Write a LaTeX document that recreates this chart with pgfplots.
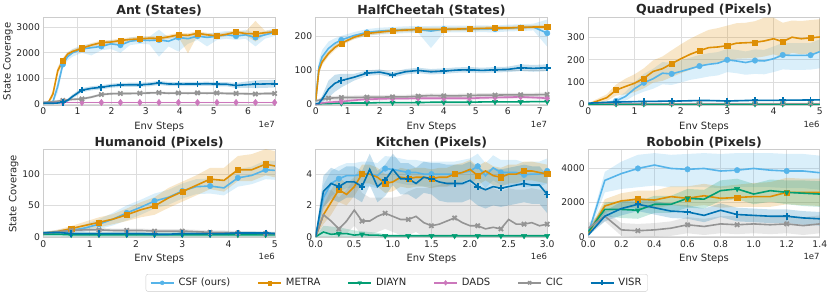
\documentclass[border=0pt]{standalone}
\usepackage{pgfplots}
\pgfplotsset{compat=1.18}
\usepackage{pgfplotstable}
\usepgfplotslibrary{fillbetween}
\usepackage{fontspec}
\setmainfont{DejaVu Sans}

\definecolor{cCSF}{HTML}{56B4E9}
\definecolor{cMETRA}{HTML}{DE8F05}
\definecolor{cDIAYN}{HTML}{029E73}
\definecolor{cDADS}{HTML}{CC78BC}
\definecolor{cCIC}{HTML}{949494}
\definecolor{cVISR}{HTML}{0173B2}
\definecolor{cGrid}{HTML}{DDDDDD}
\definecolor{cFrame}{HTML}{CCCCCC}
\definecolor{cText}{HTML}{262626}

% ---------------- data (x in units of the axis' 1eN) ----------------
\pgfplotstableread{
x am al ah bm bl bh dm dl dh em el eh fm fl fh
0 40 30 30 40 30 30 70 20 20 80 50 50 40 30 30
0.14 50 30 30 60 30 30 70 20 20 90 50 50 40 30 30
0.28 100 60 60 400 150 150 70 20 20 100 50 50 40 30 30
0.42 700 250 250 1300 150 150 70 20 20 120 50 50 50 30 30
0.57 1550 150 150 1700 100 100 70 20 20 150 50 50 80 40 40
0.71 1850 150 150 1950 80 80 70 20 20 170 50 50 150 60 60
0.85 2000 150 150 2050 80 80 70 20 20 190 50 50 300 80 80
1.13 2150 150 150 2180 80 80 70 20 20 210 50 50 550 80 80
1.41 2200 300 150 2300 80 80 70 20 20 280 50 50 620 80 80
1.70 2250 150 150 2400 80 80 70 20 20 380 50 50 660 80 80
1.98 2350 200 150 2420 80 80 70 20 20 410 50 50 720 80 80
2.26 2300 300 150 2480 80 80 70 20 20 420 50 50 750 80 80
2.54 2450 150 150 2520 80 80 70 20 20 420 50 50 760 80 80
2.83 2500 150 150 2540 80 80 70 20 20 430 50 50 760 80 80
3.11 2480 150 150 2570 80 80 70 20 20 440 50 50 780 80 80
3.39 2500 650 400 2560 80 80 70 20 20 450 50 50 830 80 80
3.67 2450 200 150 2620 80 80 70 20 20 430 50 50 790 80 80
3.96 2600 550 150 2700 80 80 70 20 20 440 50 50 780 80 80
4.24 2550 200 150 2680 700 80 70 20 20 430 50 50 790 80 80
4.52 2650 150 150 2760 80 80 70 20 20 440 50 50 790 80 80
4.80 2600 350 150 2700 80 80 70 20 20 430 50 50 800 80 80
5.09 2650 150 150 2660 80 80 70 20 20 440 50 50 780 80 80
5.37 2700 150 150 2720 80 80 70 20 20 420 50 50 780 80 80
5.65 2650 150 150 2810 80 80 70 20 20 420 50 50 730 100 100
5.93 2700 150 200 2750 80 80 70 20 20 410 50 50 760 120 120
6.22 2600 350 150 2740 300 500 70 20 20 400 50 50 780 150 150
6.50 2700 150 150 2780 80 80 70 20 20 420 50 50 790 150 150
6.78 2800 150 150 2820 80 80 70 20 20 420 50 50 800 150 150
}\antTab

\pgfplotstableread{
x am al ah bm bl bh cm cl ch dm dl dh em el eh fm fl fh
0 10 5 5 10 5 5 0 1 1 0 1 1 10 4 4 2 1 1
0.1 110 20 20 100 10 10 1 1 1 2 2 2 12 5 5 3 2 2
0.2 140 20 20 125 10 10 2 2 2 4 3 3 15 6 6 15 10 10
0.4 165 20 20 150 8 8 2 2 2 6 4 4 18 6 6 45 25 25
0.6 180 15 15 168 8 8 3 2 2 7 5 5 19 6 6 62 25 25
0.8 190 12 12 180 6 6 3 2 2 8 5 5 20 6 6 70 20 20
1.2 203 10 10 198 6 6 4 2 2 12 5 5 20 6 6 80 10 10
1.6 212 10 10 209 6 6 4 2 2 15 5 5 21 6 6 92 8 8
2.0 216 10 10 213 6 6 5 2 2 16 5 5 21 6 6 95 8 8
2.4 218 10 10 217 6 6 5 2 2 17 5 5 22 6 6 87 8 8
2.8 220 10 10 219 6 6 5 2 2 17 5 5 22 6 6 96 8 8
3.2 221 10 10 221 6 6 5 2 2 18 5 5 24 6 6 100 8 8
3.6 216 50 15 221 6 6 6 2 2 18 5 5 26 6 6 96 8 8
4.0 222 10 10 221 6 6 6 2 2 18 5 5 25 6 6 98 8 8
4.4 222 10 10 222 6 6 6 2 2 18 5 5 25 6 6 101 8 8
4.8 222 10 10 223 6 6 6 2 2 18 5 5 26 6 6 102 8 8
5.2 223 10 10 224 6 6 7 2 2 19 5 5 27 6 6 100 8 8
5.6 222 10 10 225 6 6 7 2 2 20 5 5 27 6 6 102 8 8
6.0 225 10 10 225 6 6 7 2 2 21 5 5 28 6 6 103 8 8
6.4 226 10 10 227 6 6 7 2 2 22 5 5 28 6 6 108 10 10
6.8 228 10 10 228 6 6 8 2 2 20 5 5 28 6 6 106 10 10
7.23 210 40 40 228 6 6 8 2 2 18 5 5 29 6 6 108 10 10
}\hcTab

\pgfplotstableread{
x am al ah bm bl bh cm cl ch em el eh fm fl fh
0 0 2 2 0 5 5 1 1 1 4 3 3 5 3 3
0.2 2 3 3 15 10 10 1 1 1 4 3 3 7 3 3
0.4 5 5 5 30 15 15 1 1 1 4 3 3 9 3 3
0.6 15 10 10 64 25 25 1 1 1 4 3 3 10 3 3
0.8 35 20 20 80 35 35 1 1 1 4 3 3 11 3 3
1.0 70 30 30 95 40 40 1 1 1 4 3 3 12 3 3
1.2 97 40 40 117 45 45 1 1 1 4 3 3 13 3 3
1.4 115 45 45 148 50 50 1 1 1 4 3 3 13 3 3
1.6 140 50 50 160 55 55 1 1 1 4 3 3 14 3 3
1.8 137 50 50 183 60 60 1 1 1 4 3 3 14 3 3
2.0 148 50 50 205 65 65 1 1 1 4 3 3 15 3 3
2.2 160 50 50 225 70 70 1 1 1 4 3 3 16 3 3
2.4 172 55 50 241 70 75 1 1 1 4 3 3 17 3 3
2.6 180 55 50 255 70 80 1 1 1 4 3 3 17 3 3
2.8 185 55 50 258 70 85 1 1 1 4 3 3 16 3 3
3.0 200 55 50 264 70 90 1 1 1 4 3 3 15 3 3
3.2 195 55 50 275 70 90 1 1 1 4 3 3 16 3 3
3.4 188 55 50 277 70 90 1 1 1 4 3 3 17 3 3
3.6 197 60 50 279 70 95 1 1 1 4 3 3 18 3 3
3.8 195 60 50 285 70 105 1 1 1 4 3 3 18 3 3
4.0 205 60 55 295 70 95 1 1 1 4 3 3 18 3 3
4.2 222 65 55 282 70 85 1 1 1 4 3 3 18 3 3
4.4 220 65 55 302 70 75 1 1 1 4 3 3 19 3 3
4.6 220 65 55 295 70 80 1 1 1 4 3 3 19 3 3
4.8 221 65 55 299 70 80 1 1 1 4 3 3 20 3 3
5.0 237 75 55 303 70 80 1 1 1 4 3 3 20 3 3
}\quadTab

\pgfplotstableread{
x am al ah bm bl bh cm cl ch em el eh fm fl fh
0 5 2 2 5 2 2 4 3 5 5 3 3 6 2 2
0.3 7 3 3 8 3 3 4 3 5 8 3 3 7 2 2
0.6 10 4 4 13 4 4 3 3 4 10 3 3 5 2 2
0.9 14 6 6 18 6 6 3 3 4 11 3 3 5 2 2
1.2 20 8 8 23 8 8 3 3 4 11 3 3 5 2 2
1.5 28 10 10 28 8 8 3 3 4 10 3 3 5 2 2
1.8 38 12 12 35 10 10 3 3 4 10 3 3 5 2 2
2.1 47 12 12 43 12 12 3 3 4 10 3 3 5 2 2
2.4 57 12 12 49 14 14 3 3 4 9 3 3 4 2 2
2.7 63 12 12 62 16 16 3 3 4 9 3 3 4 2 2
3.0 73 12 12 72 16 16 3 3 4 9 3 3 5 2 2
3.3 80 12 12 82 16 16 3 3 4 8 3 3 5 2 2
3.6 81 12 12 92 16 18 3 3 4 7 3 3 5 2 2
3.9 78 12 12 90 18 20 3 3 4 7 3 3 5 2 2
4.2 94 14 14 107 18 22 3 3 4 6 3 3 6 2 2
4.5 98 14 14 107 18 25 3 3 4 6 3 3 6 2 2
4.8 107 15 15 116 18 24 3 3 4 5 3 3 6 2 2
5.0 106 15 15 113 18 24 3 3 4 5 3 3 5 2 2
}\humTab

\pgfplotstableread{
x am al ah bm bl bh cm cl ch em el eh fm fl fh
0.0 0 0 0 0 0 0 0 0 0 0 0 0 0 0 0
0.1 2.5 0.8 0.8 1.4 0.6 0.6 0.3 0.3 0.4 1.4 1.0 1.5 2.9 1.0 1.0
0.2 3.4 0.8 0.8 2.2 0.8 0.8 0.15 0.15 0.5 1.0 0.8 2.0 3.4 1.0 1.0
0.3 3.7 0.8 0.8 3.0 0.8 0.8 0.2 0.2 0.4 0.5 0.5 2.0 3.2 1.0 1.0
0.4 3.9 0.8 0.8 2.7 0.7 0.7 0.2 0.2 0.3 1.0 0.8 2.0 3.5 1.0 1.0
0.5 3.9 0.8 0.8 3.2 0.6 0.6 0.1 0.1 0.3 1.7 1.0 2.0 3.5 1.0 1.0
0.6 4.0 0.8 0.8 4.0 0.6 0.6 0.15 0.15 0.2 1.0 0.9 1.8 3.2 1.0 1.0
0.7 4.0 0.8 0.8 4.0 0.6 0.6 0.1 0.1 0.2 1.0 0.9 1.5 4.3 1.0 1.0
0.8 3.9 0.8 0.8 3.8 0.6 0.6 0.1 0.1 0.15 1.3 1.0 1.2 3.2 1.0 1.0
0.9 4.35 0.8 0.8 3.4 0.6 0.6 0.05 0.05 0.1 1.5 1.0 1.0 3.6 1.0 1.0
1.0 4.3 0.8 0.8 3.5 0.6 0.6 0.05 0.05 0.1 1.3 1.0 1.2 4.3 1.0 1.0
1.1 4.2 0.8 0.8 3.8 0.6 0.6 0.05 0.05 0.1 1.1 1.0 1.5 3.7 1.0 1.0
1.2 4.1 0.8 0.8 3.7 0.6 0.6 0.05 0.05 0.1 1.1 1.0 1.8 3.7 1.0 1.0
1.3 4.1 0.8 0.8 3.8 0.6 0.6 0.05 0.05 0.1 1.3 1.0 1.8 3.4 1.0 1.0
1.4 4.0 0.8 0.8 3.8 0.6 0.6 0.05 0.05 0.1 0.9 0.9 2.2 3.8 1.0 1.0
1.5 4.0 0.8 0.8 3.7 0.6 0.6 0.05 0.05 0.1 0.7 0.7 2.5 3.7 1.0 1.0
1.6 4.0 0.8 0.8 3.8 0.6 0.6 0.05 0.05 0.1 0.8 0.8 2.5 3.5 1.2 1.2
1.7 4.0 0.8 0.8 3.8 0.6 0.6 0.05 0.05 0.1 1.0 1.0 2.5 3.4 1.2 1.2
1.8 4.0 0.8 0.8 4.0 0.6 0.6 0.05 0.05 0.1 1.2 1.0 2.3 3.4 1.2 1.2
1.9 4.1 0.8 0.8 4.1 0.6 0.6 0.05 0.05 0.1 0.9 0.9 2.5 3.4 1.2 1.2
2.0 4.2 0.8 0.8 4.3 0.6 0.6 0.05 0.05 0.1 0.7 0.7 2.7 3.6 1.2 1.2
2.1 4.5 0.8 0.8 3.9 0.6 0.6 0.05 0.05 0.1 0.7 0.7 2.5 3.2 1.2 1.2
2.2 3.9 0.8 0.8 4.2 0.6 0.6 0.05 0.05 0.1 0.5 0.5 2.6 3.0 1.2 1.2
2.3 4.4 0.8 0.8 3.9 0.6 0.6 0.05 0.05 0.1 0.6 0.6 2.5 3.2 1.2 1.2
2.4 4.1 0.8 0.8 3.8 0.6 0.6 0.05 0.05 0.1 0.5 0.5 2.4 3.1 1.2 1.2
2.5 4.1 0.8 0.8 4.0 0.6 0.6 0.05 0.05 0.1 1.1 1.0 2.0 3.2 1.2 1.2
2.6 4.1 0.8 0.8 4.0 0.6 0.6 0.05 0.05 0.1 0.8 0.8 2.2 3.3 1.2 1.2
2.7 3.95 0.8 0.8 4.2 0.6 0.6 0.05 0.05 0.1 0.8 0.8 2.2 3.4 1.2 1.2
2.8 4.0 0.8 0.8 4.2 0.6 0.6 0.05 0.05 0.1 0.9 0.9 2.2 3.3 1.2 1.2
2.9 4.0 0.8 0.8 4.1 0.6 0.6 0.05 0.05 0.1 0.7 0.7 2.3 3.3 1.2 1.2
3.0 4.2 0.8 0.8 4.0 0.6 0.6 0.05 0.05 0.1 0.8 0.8 2.2 2.7 1.2 1.2
}\kitTab

\pgfplotstableread{
x am al ah bm bl bh cm cl ch em el eh fm fl fh
0.0 200 100 100 200 100 100 300 100 100 500 300 300 100 50 50
0.1 3300 700 500 1800 400 400 1600 400 400 1200 300 300 1200 300 300
0.2 3700 900 700 2100 450 450 1600 500 500 400 350 400 1650 400 400
0.3 4000 1100 800 2200 500 500 1550 500 500 350 350 400 1900 400 400
0.4 4200 1200 700 2150 500 550 1900 500 500 400 400 400 1700 400 400
0.5 4000 1100 800 2350 500 600 1900 500 500 500 450 400 1500 400 400
0.6 3950 1050 900 2250 500 700 2250 550 550 700 500 450 1450 400 400
0.7 4000 1100 900 2400 550 700 2200 550 550 600 500 450 1250 400 400
0.8 3850 1000 1000 2250 550 700 2700 600 600 750 550 450 1550 400 400
0.9 3900 1000 1000 2300 550 750 2800 600 600 700 550 500 1300 400 400
1.0 4000 1100 900 2350 600 800 2500 600 600 750 550 500 1250 400 400
1.1 3900 1000 1000 2350 600 850 2700 650 650 700 550 500 1200 400 400
1.2 3850 1000 1000 2600 700 850 2600 700 700 750 550 500 1200 400 400
1.3 3850 1000 1000 2600 750 800 2550 750 750 650 550 500 1100 400 400
1.4 3750 1000 1000 2600 800 800 2500 750 750 750 550 500 1050 400 400
}\robTab

% ---------------- styles ----------------
\pgfplotsset{
  csf/.style={cCSF, line width=1.6pt, mark=*, mark size=2.8pt, mark options={solid, fill=cCSF, line width=0.4pt}},
  metra/.style={cMETRA, line width=1.6pt, mark=square*, mark size=2.6pt, mark options={solid, fill=cMETRA, line width=0.4pt}},
  diayn/.style={cDIAYN, line width=1.6pt, mark=triangle*, mark size=3pt, mark options={solid, fill=cDIAYN, rotate=180, line width=0.4pt}},
  dads/.style={cDADS, line width=1.6pt, mark=diamond*, mark size=3.2pt, mark options={solid, fill=cDADS, line width=0.4pt}},
  cic/.style={cCIC, line width=1.6pt, mark=x, mark size=3pt, mark options={solid, line width=1.8pt}},
  visr/.style={cVISR, line width=1.6pt, mark=+, mark size=3.3pt, mark options={solid, line width=1.8pt}},
  panel/.style={
    scale only axis, width=231.5pt, height=88.3pt, anchor=south west,
    axis line style={draw=cFrame, line width=0.8pt},
    xmajorgrids, ymajorgrids, major grid style={draw=cGrid, line width=0.8pt},
    major tick length=0pt,
    tick label style={font=\fontsize{9.2}{10}\selectfont, text=cText},
    xticklabel style={yshift=1pt},
    /pgf/number format/assume math mode=true,
    /pgf/number format/1000 sep={},
    label style={font=\fontsize{10}{12}\selectfont, text=cText},
    xlabel style={yshift=0pt},
    ylabel shift=-3pt,
    title style={font=\fontsize{12.5}{14}\selectfont\bfseries, text=cText, yshift=-8.5pt},
    xlabel={Env Steps},
    legend image code/.code={\draw[mark repeat=2,mark phase=2] plot coordinates {(0pt,0pt) (11.5pt,0pt) (23pt,0pt)};},
  },
}
\tikzset{expo/.style={anchor=east, font=\fontsize{8.5}{10}\selectfont, text=cText, inner sep=0pt}}

% band: #1 table, #2 column prefix, #3 colour
\newcommand{\band}[3]{%
  \addplot[draw=none, forget plot, name path=#2U] table[x=x, y expr=\thisrow{#2m}+\thisrow{#2h}]{#1};
  \addplot[draw=none, forget plot, name path=#2L] table[x=x, y expr=\thisrow{#2m}-\thisrow{#2l}]{#1};
  \addplot[fill=#3, fill opacity=0.22, draw=none, forget plot] fill between[of=#2U and #2L];
}
% mean line: #1 table, #2 prefix, #3 style, #4 marked indices
\newcommand{\mean}[4]{%
  \addplot[#3, mark indices={#4}, forget plot] table[x=x, y=#2m]{#1};
}

\begin{document}
\begin{tikzpicture}

% ---------- Ant ----------
\begin{axis}[panel, name=ant, at={(43.4pt,192.5pt)}, title={Ant (States)},
  xmin=0, xmax=6.79, ymin=-47, ymax=3385, xtick={0,...,6}, ytick={0,1000,2000,3000},
  ylabel={State Coverage}]
  \band{\antTab}{a}{cCSF}\band{\antTab}{b}{cMETRA}\band{\antTab}{d}{cDADS}
  \band{\antTab}{e}{cCIC}\band{\antTab}{f}{cVISR}
  \mean{\antTab}{a}{csf}{5,8,10,12,14,16,18,20,22,24,26,28}
  \mean{\antTab}{b}{metra}{5,8,10,12,14,16,18,20,22,24,26,28}
  \mean{\antTab}{d}{dads}{5,8,10,12,14,16,18,20,22,24,26,28}
  \mean{\antTab}{e}{cic}{5,8,10,12,14,16,18,20,22,24,26,28}
  \mean{\antTab}{f}{visr}{5,8,10,12,14,16,18,20,22,24,26,28}
\end{axis}
\node[expo] at ([yshift=-18.5pt]ant.south east) {1e7};

% ---------- HalfCheetah ----------
\begin{axis}[panel, name=hc, at={(315.7pt,192.5pt)}, title={HalfCheetah (States)},
  xmin=0, xmax=7.23, ymin=-3.5, ymax=257, xtick={0,...,7}, ytick={0,100,200}]
  \band{\hcTab}{a}{cCSF}\band{\hcTab}{b}{cMETRA}\band{\hcTab}{c}{cDIAYN}
  \band{\hcTab}{d}{cDADS}\band{\hcTab}{e}{cCIC}\band{\hcTab}{f}{cVISR}
  \mean{\hcTab}{a}{csf}{6,8,10,12,14,16,18,20,22}
  \mean{\hcTab}{b}{metra}{6,8,10,12,14,16,18,20,22}
  \mean{\hcTab}{c}{diayn}{6,8,10,12,14,16,18,20,22}
  \mean{\hcTab}{d}{dads}{6,8,10,12,14,16,18,20,22}
  \mean{\hcTab}{e}{cic}{4,6,8,10,12,14,16,18,20,22}
  \mean{\hcTab}{f}{visr}{6,8,10,12,14,16,18,20,22}
\end{axis}
\node[expo] at ([yshift=-18.5pt]hc.south east) {1e7};

% ---------- Quadruped ----------
\begin{axis}[panel, name=quad, at={(588.3pt,192.5pt)}, title={Quadruped (Pixels)},
  xmin=0, xmax=5, ymin=-5.4, ymax=392, xtick={0,...,5}, ytick={0,100,200,300}]
  \band{\quadTab}{a}{cCSF}\band{\quadTab}{b}{cMETRA}\band{\quadTab}{c}{cDIAYN}
  \band{\quadTab}{e}{cCIC}\band{\quadTab}{f}{cVISR}
  \mean{\quadTab}{a}{csf}{4,7,10,13,16,19,22,25}
  \mean{\quadTab}{b}{metra}{4,7,10,13,16,19,22,25}
  \mean{\quadTab}{c}{diayn}{4,7,10,13,16,19,22,25}
  \mean{\quadTab}{e}{cic}{4,7,10,13,16,19,22,25}
  \mean{\quadTab}{f}{visr}{4,7,10,13,16,19,22,25}
\end{axis}
\node[expo] at ([yshift=-18.5pt]quad.south east) {1e6};

% ---------- Humanoid ----------
\begin{axis}[panel, name=hum, at={(43.4pt,60.2pt)}, title={Humanoid (Pixels)},
  xmin=0, xmax=5, ymin=-1.75, ymax=139.4, xtick={0,...,5}, ytick={0,50,100},
  ylabel={State Coverage}]
  \band{\humTab}{a}{cCSF}\band{\humTab}{b}{cMETRA}\band{\humTab}{c}{cDIAYN}
  \band{\humTab}{e}{cCIC}\band{\humTab}{f}{cVISR}
  \mean{\humTab}{a}{csf}{3,5,7,9,11,13,15,17}
  \mean{\humTab}{b}{metra}{3,5,7,9,11,13,15,17}
  \mean{\humTab}{c}{diayn}{3,5,7,9,11,13,15,17}
  \mean{\humTab}{e}{cic}{3,5,7,9,11,13,15,17}
  \mean{\humTab}{f}{visr}{3,5,7,9,11,13,15,17}
\end{axis}
\node[expo] at ([yshift=-18.5pt]hum.south east) {1e6};

% ---------- Kitchen ----------
\begin{axis}[panel, name=kit, at={(315.7pt,60.2pt)}, title={Kitchen (Pixels)},
  xmin=0, xmax=3.0, ymin=-0.07, ymax=5.57, xtick={0,0.5,...,3.0}, ytick={0,2,4},
  xticklabel style={/pgf/number format/.cd, fixed, fixed zerofill, precision=1},
  legend columns=6, legend cell align=left,
  legend style={at={(0.35,-0.51)}, anchor=center, draw=cFrame, rounded corners=2pt,
    font=\fontsize{10}{12}\selectfont, text=cText, inner xsep=4pt, inner ysep=2pt,
    /tikz/every odd column/.append style={column sep=2pt},
    /tikz/every even column/.append style={column sep=25pt}}]
  \band{\kitTab}{a}{cCSF}\band{\kitTab}{b}{cMETRA}\band{\kitTab}{c}{cDIAYN}
  \band{\kitTab}{e}{cCIC}\band{\kitTab}{f}{cVISR}
  \mean{\kitTab}{a}{csf}{4,7,10,13,16,19,22,25,28,31}
  \mean{\kitTab}{b}{metra}{4,7,10,13,16,19,22,25,28,31}
  \mean{\kitTab}{c}{diayn}{4,7,10,13,16,19,22,25,28,31}
  \mean{\kitTab}{e}{cic}{4,7,10,13,16,19,22,25,28,31}
  \mean{\kitTab}{f}{visr}{4,7,10,13,16,19,22,25,28,31}
  \addlegendimage{csf, mark size=2pt}\addlegendentry{CSF (ours)}
  \addlegendimage{metra, mark size=1.9pt}\addlegendentry{METRA}
  \addlegendimage{diayn, mark size=2.2pt}\addlegendentry{DIAYN}
  \addlegendimage{dads, mark size=2.4pt}\addlegendentry{DADS}
  \addlegendimage{cic, mark size=2.2pt}\addlegendentry{CIC}
  \addlegendimage{visr, mark size=2.4pt}\addlegendentry{VISR}
\end{axis}
\node[expo] at ([yshift=-18.5pt]kit.south east) {1e6};

% ---------- Robobin ----------
\begin{axis}[panel, name=rob, at={(588.3pt,60.2pt)}, title={Robobin (Pixels)},
  xmin=0, xmax=1.4, ymin=-64, ymax=5111, xtick={0,0.2,...,1.4}, ytick={0,2000,4000},
  xticklabel style={/pgf/number format/.cd, fixed, fixed zerofill, precision=1}]
  \band{\robTab}{a}{cCSF}\band{\robTab}{b}{cMETRA}\band{\robTab}{c}{cDIAYN}
  \band{\robTab}{e}{cCIC}\band{\robTab}{f}{cVISR}
  \mean{\robTab}{a}{csf}{4,7,10,13}
  \mean{\robTab}{b}{metra}{4,7,10,13}
  \mean{\robTab}{c}{diayn}{4,7,10,13}
  \mean{\robTab}{e}{cic}{4,7,10,13}
  \mean{\robTab}{f}{visr}{4,7,10,13}
\end{axis}
\node[expo] at ([yshift=-18.5pt]rob.south east) {1e7};

\pgfresetboundingbox
\useasboundingbox (0,0) rectangle (831pt,298pt);
\end{tikzpicture}
\end{document}
